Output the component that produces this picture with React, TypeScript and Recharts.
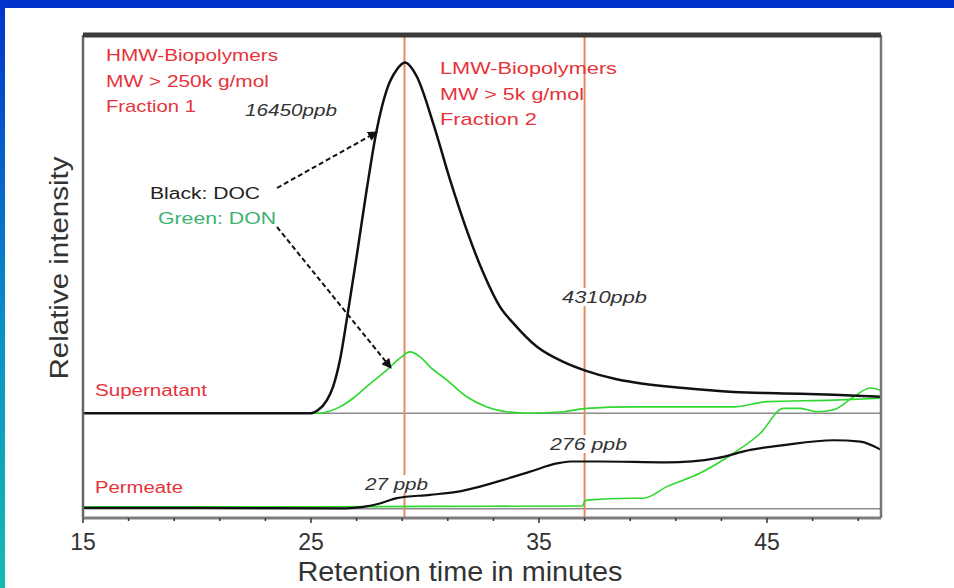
import { LineChart, Line, XAxis, YAxis, ReferenceLine } from "recharts";

// retention time (min) / relative intensity
const supDocTime = [15, 20, 25, 25.3, 25.7, 25.97, 26.27, 26.6, 27, 27.44, 27.88, 28.32, 28.76, 29.12, 29.64, 30.36, 31.1, 31.83, 32.56, 33.29, 33.88, 34.9, 36.07, 37.1, 38.27, 39.14, 41.34, 43.53, 45.73, 47.92, 50];
const supDocValue = [21.7, 21.7, 21.7, 22.3, 24.4, 27.2, 32.7, 42, 54.1, 67.9, 80.3, 88.6, 92.8, 94.3, 91.4, 81.7, 70, 59.6, 50.7, 43.7, 40.3, 35.5, 32.3, 30.4, 28.9, 28.1, 26.9, 26.1, 25.8, 25.5, 25.1];

const supDonTime = [15, 25.4, 25.8, 26.27, 26.9, 27.44, 28.32, 28.9, 29.34, 29.8, 30.22, 30.95, 31.83, 32.71, 33.59, 34.61, 36.07, 37.1, 39.14, 43.53, 45, 47.92, 50];
const supDonValue = [21.7, 21.7, 22.1, 23, 25, 27.2, 30.6, 33.1, 34.4, 33.3, 31.3, 28.6, 25.1, 23, 22, 21.7, 22, 22.7, 23, 23, 24.1, 24.4, 24.8];

const permDocTime = [15, 20, 26.5, 27.29, 28.02, 28.76, 30.22, 31.39, 32.41, 33.44, 34.61, 35.78, 36.37, 37.68, 40.61, 42.81, 44.27, 45.73, 47.92, 49.1, 50];
const permDocValue = [2.1, 2.1, 2.0, 2.3, 3.0, 4.1, 4.8, 5.4, 6.5, 7.9, 9.6, 11.3, 11.7, 11.7, 11.5, 12.4, 14.1, 15.1, 16.1, 15.8, 14.1];

const permDonTime = [15, 25, 30, 36.9, 37, 37.1, 39, 39.58, 40.61, 42.07, 43.53, 44.7, 45.73, 46.46, 47.2, 47.92, 48.8, 49.53, 50];
const permDonValue = [2.3, 2.3, 2.4, 2.5, 3.4, 3.7, 4.1, 4.1, 6.5, 9.3, 13.4, 17.5, 22.7, 22.7, 22, 22.4, 25.1, 26.9, 26.4];

const baselines = [21.7, 1.9];
const fractionCuts = [29.1, 37.0];
const xTicks = [15, 17, 19, 21, 23, 25, 27, 29, 31, 33, 35, 37, 39, 41, 43, 45, 47, 49];
const xLabels = [15, 25, 35, 45];

const toRows = (t: number[], v: number[]) => t.map((x, i) => ({ t: x, v: v[i] }));

const FONT = '"Liberation Sans", Arial, sans-serif';
const RED = "#e5343b";

const TimeTick = (props: any) => {
  const { x, y, payload } = props;
  const major = xLabels.includes(payload.value);
  return (
    <g>
      <line x1={x} x2={x} y1={y} y2={y + (major ? 5 : 3)} stroke="#333" strokeWidth={1.5} />
      {major && (
        <text x={x} y={y + 32} textAnchor="middle" fontSize={23} fill="#333" fontFamily={FONT}>
          {payload.value}
        </text>
      )}
    </g>
  );
};

const Label = ({ x, y, w, children, fill = RED, size = 17, italic = false, bg = false }: any) => (
  <g>
    {bg && <rect x={x - 3} y={y - size + 1} width={w + 6} height={size + 2} fill="#fff" />}
    <text
      x={x}
      y={y}
      fontSize={size}
      fill={fill}
      fontFamily={FONT}
      fontStyle={italic ? "italic" : "normal"}
      textLength={w}
      lengthAdjust="spacingAndGlyphs"
    >
      {children}
    </text>
  </g>
);

export default function App() {
  return (
    <div style={{ position: "fixed", left: 0, top: 0, width: 954, height: 588, background: "#fff", overflow: "hidden" }}>
      <div style={{ position: "absolute", left: 0, top: 0, width: 954, height: 8, background: "#0033cc" }} />
      <div
        style={{
          position: "absolute",
          left: 0,
          top: 0,
          width: 5,
          height: 588,
          background: "linear-gradient(#0033cc, #0a8fc8 55%, #14bcb0)",
        }}
      />
      <div style={{ position: "absolute", left: 0, top: 0 }}>
        <LineChart width={954} height={588} margin={{ top: 35, right: 73, bottom: 30, left: 83 }}>
          <XAxis
            dataKey="t"
            type="number"
            domain={[15, 50]}
            allowDataOverflow
            ticks={xTicks}
            interval={0}
            height={40}
            tickSize={0}
            tickMargin={0}
            tickLine={false}
            tick={<TimeTick />}
            axisLine={{ stroke: "#7d7d7d", strokeWidth: 3 }}
          />
          <YAxis hide type="number" domain={[0, 100]} allowDataOverflow />
          {baselines.map((b) => (
            <ReferenceLine key={"b" + b} y={b} stroke="#8c8c8c" strokeWidth={1.5} />
          ))}
          {fractionCuts.map((c) => (
            <ReferenceLine key={"c" + c} x={c} stroke="#e58b60" strokeWidth={2} />
          ))}
          <Line data={toRows(supDonTime, supDonValue)} dataKey="v" type="monotone" stroke="#2fd82f" strokeWidth={1.6} dot={false} isAnimationActive={false} />
          <Line data={toRows(permDonTime, permDonValue)} dataKey="v" type="monotone" stroke="#2fd82f" strokeWidth={1.6} dot={false} isAnimationActive={false} />
          <Line data={toRows(supDocTime, supDocValue)} dataKey="v" type="monotone" stroke="#111" strokeWidth={2.5} dot={false} isAnimationActive={false} />
          <Line data={toRows(permDocTime, permDocValue)} dataKey="v" type="monotone" stroke="#111" strokeWidth={2.2} dot={false} isAnimationActive={false} />
          {/* plot frame */}
          <ReferenceLine x={15} stroke="#666" strokeWidth={2.5} />
          <ReferenceLine x={50} stroke="#777" strokeWidth={2.5} />
          <ReferenceLine y={100} stroke="#3a3a3a" strokeWidth={5} />
        </LineChart>
      </div>
      <svg width={954} height={588} style={{ position: "absolute", left: 0, top: 0, pointerEvents: "none" }}>
        <defs>
          <marker id="ah" viewBox="0 0 10 10" refX="9" refY="5" markerWidth="5" markerHeight="5" orient="auto">
            <path d="M0,0 L10,5 L0,10 z" fill="#111" />
          </marker>
        </defs>
        <Label x={106} y={61} w={172}>HMW-Biopolymers</Label>
        <Label x={106} y={87} w={163}>MW &gt; 250k g/mol</Label>
        <Label x={106} y={112} w={90}>Fraction 1</Label>
        <Label x={245} y={116} w={92} fill="#333" size={16} italic>16450ppb</Label>
        <Label x={440} y={74} w={177}>LMW-Biopolymers</Label>
        <Label x={440} y={100} w={144}>MW &gt; 5k g/mol</Label>
        <Label x={440} y={125} w={97}>Fraction 2</Label>
        <Label x={150} y={199} w={110} fill="#222" size={16}>Black: DOC</Label>
        <Label x={158} y={224} w={118} fill="#3cb371" size={16}>Green: DON</Label>
        <Label x={562} y={303} w={85} fill="#333" size={16} italic bg>4310ppb</Label>
        <Label x={550} y={450} w={77} fill="#333" size={16} italic bg>276 ppb</Label>
        <Label x={365} y={490} w={63} fill="#333" size={16} italic bg>27 ppb</Label>
        <Label x={95} y={396} w={112} size={16}>Supernatant</Label>
        <Label x={95} y={493} w={88} size={16}>Permeate</Label>
        <line x1={277} y1={188} x2={377} y2={132} stroke="#111" strokeWidth={2} strokeDasharray="5 3" markerEnd="url(#ah)" />
        <line x1={277} y1={227} x2={391} y2={368} stroke="#111" strokeWidth={2} strokeDasharray="5 3" markerEnd="url(#ah)" />
        <text
          transform="translate(68,268) rotate(-90)"
          textAnchor="middle"
          fontSize={25}
          fill="#333"
          fontFamily={FONT}
          textLength={223}
          lengthAdjust="spacingAndGlyphs"
        >
          Relative intensity
        </text>
        <text
          x={460}
          y={581}
          textAnchor="middle"
          fontSize={27}
          fill="#333"
          fontFamily={FONT}
          textLength={325}
          lengthAdjust="spacingAndGlyphs"
        >
          Retention time in minutes
        </text>
      </svg>
    </div>
  );
}
